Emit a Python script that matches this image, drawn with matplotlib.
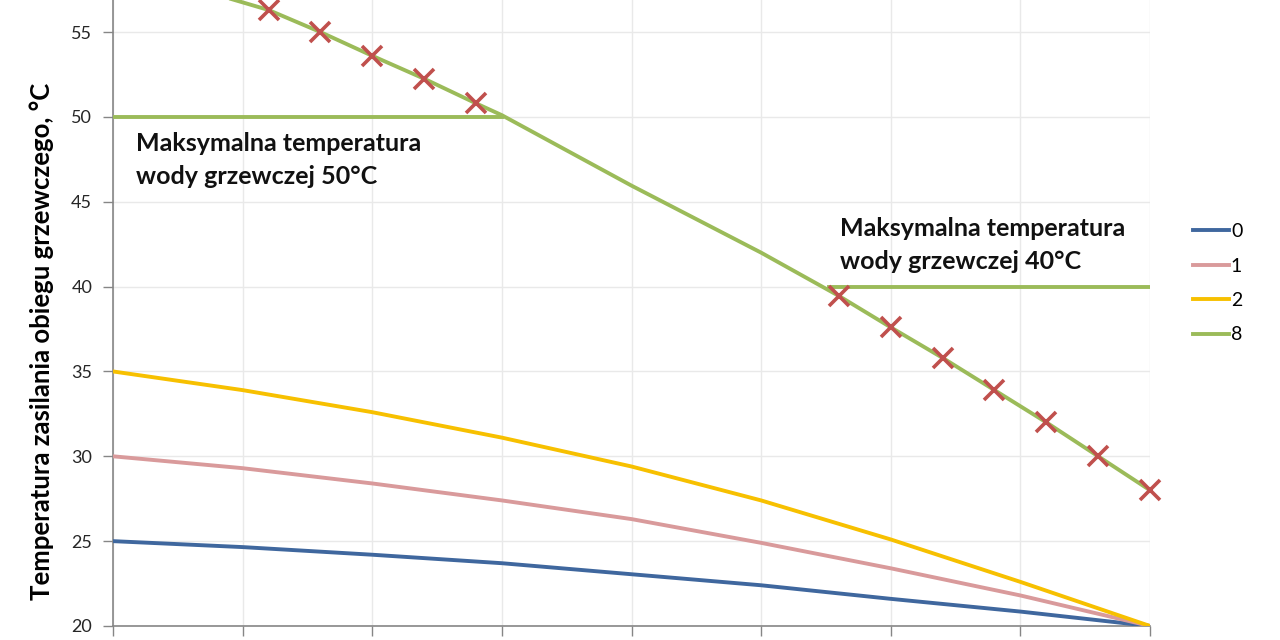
import matplotlib.pyplot as plt

plt.rcParams['font.family'] = ['Lato', 'DejaVu Sans']

# outdoor temperature, °C
outdoor = [-20, -15, -10, -5, 0, 5, 10, 15, 20]
curve_0 = [25.0, 24.65, 24.2, 23.7, 23.05, 22.4, 21.6, 20.85, 20.0]
curve_1 = [30.0, 29.3, 28.4, 27.4, 26.3, 24.9, 23.4, 21.8, 20.0]
curve_2 = [35.0, 33.9, 32.6, 31.1, 29.4, 27.4, 25.1, 22.6, 20.0]

# curve 8
outdoor_8 = [-20, -16, -14, -12, -10, -8, -6, -5, 0, 5, 8, 10, 12, 14, 16, 18, 20]
curve_8 = [59.0, 57.2, 56.3, 55.0, 53.6, 52.25, 50.8, 50.1, 45.95, 42.0,
           39.45, 37.6, 35.8, 33.9, 32.0, 30.0, 28.0]

# points marked with crosses
mark_x = [-14, -12, -10, -8, -6, 8, 10, 12, 14, 16, 18, 20]
mark_y = [56.3, 55.0, 53.6, 52.25, 50.8, 39.45, 37.6, 35.8, 33.9, 32.0, 30.0, 28.0]

# maximum heating water temperature limits
limit50_x = [-20, -5]
limit50_y = [50, 50]
limit40_x = [7.6, 20]
limit40_y = [40, 40]

fig = plt.figure(figsize=(12.8, 6.4), dpi=100)
ax = fig.add_axes([113 / 1280, 14 / 640, 1037 / 1280, 626 / 640])

lw = 2.8
ax.plot(outdoor, curve_0, color='#3F679E', lw=lw, label='0', zorder=3)
ax.plot(outdoor, curve_1, color='#D99A9B', lw=lw, label='1', zorder=3)
ax.plot(outdoor, curve_2, color='#F7C000', lw=lw, label='2', zorder=3)
ax.plot(outdoor_8, curve_8, color='#9BBB59', lw=lw, label='8', zorder=3)
ax.plot(limit50_x, limit50_y, color='#9BBB59', lw=lw, zorder=3)
ax.plot(limit40_x, limit40_y, color='#9BBB59', lw=lw, zorder=3)
ax.plot(mark_x, mark_y, ls='none', marker='x', ms=14, mew=2.6,
        color='#C0504D', zorder=4, clip_on=False)

ax.set_xlim(-20, 20)
ax.set_ylim(20, 20 + 626 / 16.97)
ax.set_xticks(outdoor)
ax.set_yticks([20, 25, 30, 35, 40, 45, 50, 55])
ax.tick_params(axis='x', labelbottom=False, direction='out', length=7,
               color='#868686', width=1)
ax.tick_params(axis='y', direction='out', length=7, color='#868686', width=1,
               labelsize=13, labelcolor='#262626', pad=8)
ax.grid(True, color='#E9E9E9', lw=1)
ax.set_axisbelow(True)
for s in ['top', 'right']:
    ax.spines[s].set_visible(False)
for s in ['left', 'bottom']:
    ax.spines[s].set_color('#868686')
    ax.spines[s].set_linewidth(1.2)

ax.text(-19.1, 49.1, 'Maksymalna temperatura\nwody grzewczej 50°C',
        fontsize=18, fontweight='bold', va='top', ha='left',
        linespacing=1.5, color='#111111')
ax.text(8.05, 44.1, 'Maksymalna temperatura\nwody grzewczej 40°C',
        fontsize=18, fontweight='bold', va='top', ha='left',
        linespacing=1.5, color='#111111')

fig.text(42 / 1280, 1 - 341 / 640, 'Temperatura zasilania obiegu grzewczego, °C',
         rotation=90, fontsize=18.5, fontweight='bold', ha='center', va='center')

fig.legend(loc='upper left', bbox_to_anchor=(1193 / 1280, 1 - 223 / 640),
           frameon=False, fontsize=14, handlelength=1.85, handletextpad=0.1,
           labelspacing=0.9, borderpad=0, borderaxespad=0)

fig.savefig('out.png', dpi=100)
